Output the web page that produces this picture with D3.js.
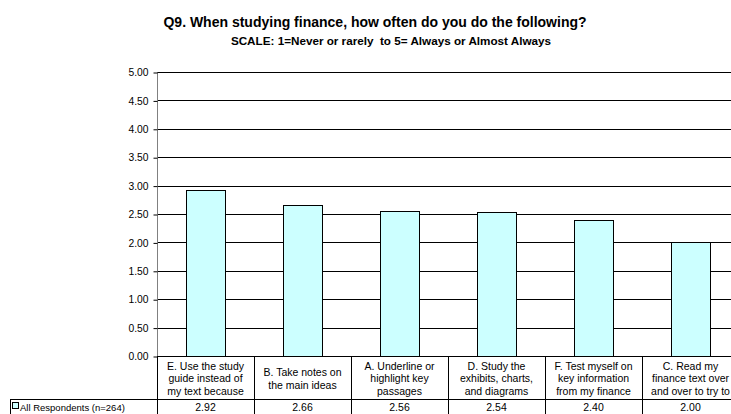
<!DOCTYPE html>
<html>
<head>
<meta charset="utf-8">
<script src="https://cdn.jsdelivr.net/npm/d3@7"></script>
<style>
  html, body { margin: 0; padding: 0; background: #fff; overflow: hidden; }
  svg { display: block; font-family: "Liberation Sans", Arial, sans-serif; }
</style>
</head>
<body>
<svg id="chart" width="731" height="414"></svg>
<script>
// Question items (label text as it fits in each table cell)
const categories = ["E", "B", "A", "D", "F", "C"];
const categoryLines = [
  ["E. Use the study", "guide instead of", "my text because"],
  ["B. Take notes on", "the main ideas"],
  ["A. Underline or", "highlight key", "passages"],
  ["D. Study the", "exhibits, charts,", "and diagrams"],
  ["F. Test myself on", "key information", "from my finance"],
  ["C. Read my", "finance text over", "and over to try to"]
];
// Mean score per item
const meanScores = [2.92, 2.66, 2.56, 2.54, 2.40, 2.00];
const seriesName = "All Respondents (n=264)";
const yTicks = [0, 0.5, 1, 1.5, 2, 2.5, 3, 3.5, 4, 4.5, 5];

const svg = d3.select("#chart");

const plotLeft = 157, plotRight = 739, plotTop = 72, plotBottom = 356;
const rowLine = 399, tableBottom = 420, headerLeft = 10;

const x = d3.scaleBand().domain(categories).range([plotLeft, plotRight])
  .paddingInner(0.6).paddingOuter(0.3);
const cell = d3.scaleBand().domain(categories).range([plotLeft, plotRight]).padding(0);
const y = d3.scaleLinear().domain([0, 5]).range([plotBottom, plotTop]);

// Titles
svg.append("text").attr("x", 375).attr("y", 27).attr("text-anchor", "middle")
  .attr("font-size", 14).attr("font-weight", "bold")
  .text("Q9. When studying finance, how often do you do the following?");
svg.append("text").attr("x", 391).attr("y", 45).attr("text-anchor", "middle")
  .attr("font-size", 11.7).attr("font-weight", "bold").attr("xml:space", "preserve")
  .text("SCALE: 1=Never or rarely  to 5= Always or Almost Always");

// Gridlines
svg.append("g").selectAll("line").data(yTicks.filter(d => d > 0)).join("line")
  .attr("x1", plotLeft).attr("x2", plotRight)
  .attr("y1", d => Math.round(y(d)) + 0.5).attr("y2", d => Math.round(y(d)) + 0.5)
  .attr("stroke", "#000").attr("stroke-width", 1);

// Y axis
const yAxis = d3.axisLeft(y).tickValues(yTicks).tickFormat(d3.format(".2f")).tickSize(4).tickPadding(5);
const gy = svg.append("g").attr("transform", `translate(${plotLeft + 0.5},0.5)`).call(yAxis);
gy.select(".domain").attr("stroke", "#808080").attr("d", `M0,${plotTop}V${plotBottom}`);
gy.selectAll(".tick line").attr("stroke", "#000");
gy.selectAll(".tick text").attr("font-size", 10.3).attr("fill", "#000")
  .attr("font-family", "Liberation Sans, Arial, sans-serif");

// Bars
svg.append("g").selectAll("rect").data(meanScores).join("rect")
  .attr("x", (d, i) => Math.round(x(categories[i])) + 0.5)
  .attr("y", d => Math.round(y(d)) + 0.5)
  .attr("width", Math.round(x.bandwidth()))
  .attr("height", d => Math.round(y(0)) - Math.round(y(d)))
  .attr("fill", "#ccffff").attr("stroke", "#000").attr("stroke-width", 1);

// Data table lines
const tbl = svg.append("g").attr("stroke", "#000").attr("stroke-width", 1);
tbl.append("line").attr("x1", plotLeft).attr("x2", plotRight)
  .attr("y1", plotBottom + 0.5).attr("y2", plotBottom + 0.5);
tbl.append("line").attr("x1", headerLeft).attr("x2", plotRight)
  .attr("y1", rowLine + 0.5).attr("y2", rowLine + 0.5);
tbl.append("line").attr("x1", headerLeft + 0.5).attr("x2", headerLeft + 0.5)
  .attr("y1", rowLine).attr("y2", tableBottom);
tbl.selectAll(".div").data(categories).join("line").attr("class", "div")
  .attr("x1", d => Math.round(cell(d)) + 0.5).attr("x2", d => Math.round(cell(d)) + 0.5)
  .attr("y1", plotBottom).attr("y2", tableBottom);

// Category labels
const labels = svg.append("g").attr("font-size", 10.5).attr("text-anchor", "middle");
categoryLines.forEach((lines, i) => {
  const cx = cell(categories[i]) + cell.bandwidth() / 2;
  const n = lines.length;
  const rowMid = (plotBottom + rowLine) / 2 + 1;
  lines.forEach((t, j) => {
    labels.append("text").attr("x", cx)
      .attr("y", rowMid + (j - (n - 1) / 2) * 12.5 + 3.8)
      .text(t);
  });
});

// Series row
svg.append("rect").attr("x", 12.5).attr("y", 402.5).attr("width", 6).attr("height", 6)
  .attr("fill", "#ccffff").attr("stroke", "#000").attr("stroke-width", 1);
svg.append("text").attr("x", 20).attr("y", 410.5).attr("font-size", 9.5).text(seriesName);
svg.append("g").attr("font-size", 10.5).attr("text-anchor", "middle")
  .selectAll("text").data(meanScores).join("text")
  .attr("x", (d, i) => cell(categories[i]) + cell.bandwidth() / 2)
  .attr("y", 411)
  .text(d => d3.format(".2f")(d));
</script>
</body>
</html>
